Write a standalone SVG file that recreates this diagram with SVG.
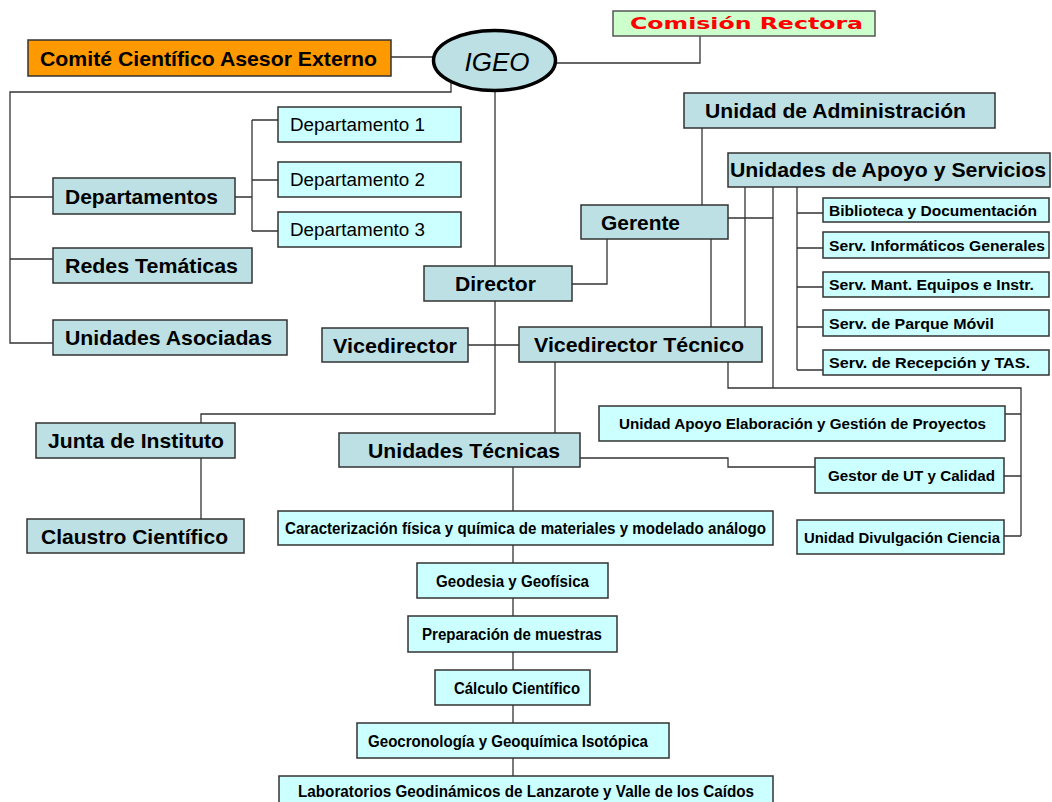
<svg xmlns="http://www.w3.org/2000/svg" width="1052" height="802" viewBox="0 0 1052 802">
<style>
.b{fill:#BCE0E3;stroke:#333;stroke-width:1.5}
.c{fill:#CCFFFF;stroke:#333;stroke-width:1.5}
.o{fill:#FF9900;stroke:#333;stroke-width:1.5}
.g{fill:#CCFFCC;stroke:#555;stroke-width:1.5}
.t{font-family:"Liberation Sans",Arial,sans-serif;font-weight:bold;font-size:21px;fill:#000}
.d{font-family:"Liberation Sans",Arial,sans-serif;font-size:18px;fill:#000}
.s{font-family:"Liberation Sans",Arial,sans-serif;font-weight:bold;font-size:15px;fill:#000}
.m{font-family:"Liberation Sans",Arial,sans-serif;font-weight:bold;font-size:16px;fill:#000}
#conn path{fill:none;stroke:#333;stroke-width:1.3}
</style>
<rect width="1052" height="802" fill="#fff"/>
<g id="conn">
<path d="M391,57H433"/>
<path d="M451,83V92H10V343H53M10,197H53M10,259H53"/>
<path d="M235,197H252M252,120V231M252,120H278M252,180H278M252,231H278"/>
<path d="M495,91V266M495,301V414H201V423"/>
<path d="M201,458V519"/>
<path d="M468,345H519"/>
<path d="M572,284H607V239"/>
<path d="M702,128V205"/>
<path d="M711,239V327"/>
<path d="M728,218H773"/>
<path d="M745,187V327"/>
<path d="M773,187V388"/>
<path d="M797,187V370M797,213H823M797,248H823M797,287H823M797,327H823M797,370H823"/>
<path d="M728,362V388H1021V536M1005,414H1021M1004,476H1021M1004,536H1021"/>
<path d="M555,362V433"/>
<path d="M580,458H728V467H815"/>
<path d="M513,467V776"/>
<path d="M557,63H700V36"/>
</g>
<g id="comite"><rect class="o" x="28" y="40" width="363" height="36"/><text class="t" x="40" y="66" textLength="337" lengthAdjust="spacingAndGlyphs">Comité Científico Asesor Externo</text></g>
<g id="igeo"><ellipse cx="494.5" cy="60.5" rx="61" ry="30" fill="#BCE0E3" stroke="#000" stroke-width="3.5"/><text x="497" y="71" text-anchor="middle" style="font-family:'Liberation Sans',Arial,sans-serif;font-style:italic;font-size:26px">IGEO</text></g>
<g id="comision"><rect class="g" x="613" y="11" width="262" height="25"/><text x="630" y="29" textLength="233" lengthAdjust="spacingAndGlyphs" style="font-family:'DejaVu Sans',Verdana,sans-serif;font-weight:bold;font-size:16px;fill:#FF0000">Comisión Rectora</text></g>
<g id="uadmin"><rect class="b" x="684" y="93" width="311" height="35"/><text class="t" x="705" y="118" textLength="261" lengthAdjust="spacingAndGlyphs">Unidad de Administración</text></g>
<g id="uapoyo"><rect class="b" x="728" y="153" width="322" height="34"/><text class="t" x="730" y="177" textLength="316" lengthAdjust="spacingAndGlyphs">Unidades de Apoyo y Servicios</text></g>
<g id="departamentos"><rect class="b" x="53" y="178" width="182" height="36"/><text class="t" x="65" y="204" textLength="153" lengthAdjust="spacingAndGlyphs">Departamentos</text></g>
<g id="redes"><rect class="b" x="53" y="248" width="199" height="35"/><text class="t" x="65" y="273" textLength="173" lengthAdjust="spacingAndGlyphs">Redes Temáticas</text></g>
<g id="asociadas"><rect class="b" x="53" y="320" width="234" height="35"/><text class="t" x="65" y="345" textLength="207" lengthAdjust="spacingAndGlyphs">Unidades Asociadas</text></g>
<g id="dep1"><rect class="c" x="278" y="107" width="183" height="35"/><text class="d" x="290" y="131" textLength="135" lengthAdjust="spacingAndGlyphs">Departamento 1</text></g>
<g id="dep2"><rect class="c" x="278" y="162" width="183" height="35"/><text class="d" x="290" y="186" textLength="135" lengthAdjust="spacingAndGlyphs">Departamento 2</text></g>
<g id="dep3"><rect class="c" x="278" y="212" width="183" height="35"/><text class="d" x="290" y="236" textLength="135" lengthAdjust="spacingAndGlyphs">Departamento 3</text></g>
<g id="gerente"><rect class="b" x="581" y="205" width="147" height="34"/><text class="t" x="601" y="230" textLength="79" lengthAdjust="spacingAndGlyphs">Gerente</text></g>
<g id="director"><rect class="b" x="424" y="266" width="148" height="35"/><text class="t" x="455" y="291" textLength="81" lengthAdjust="spacingAndGlyphs">Director</text></g>
<g id="vicedirector"><rect class="b" x="322" y="328" width="146" height="34"/><text class="t" x="333" y="353" textLength="124" lengthAdjust="spacingAndGlyphs">Vicedirector</text></g>
<g id="vicetecnico"><rect class="b" x="519" y="327" width="243" height="35"/><text class="t" x="534" y="352" textLength="210" lengthAdjust="spacingAndGlyphs">Vicedirector Técnico</text></g>
<g id="junta"><rect class="b" x="36" y="423" width="199" height="35"/><text class="t" x="48" y="448" textLength="176" lengthAdjust="spacingAndGlyphs">Junta de Instituto</text></g>
<g id="claustro"><rect class="b" x="27" y="519" width="217" height="34"/><text class="t" x="41" y="544" textLength="187" lengthAdjust="spacingAndGlyphs">Claustro Científico</text></g>
<g id="utecnicas"><rect class="b" x="339" y="433" width="241" height="34"/><text class="t" x="368" y="458" textLength="192" lengthAdjust="spacingAndGlyphs">Unidades Técnicas</text></g>
<g id="biblioteca"><rect class="c" x="823" y="198" width="226" height="24"/><text class="s" x="829" y="216" textLength="208" lengthAdjust="spacingAndGlyphs">Biblioteca y Documentación</text></g>
<g id="informaticos"><rect class="c" x="823" y="232" width="226" height="26"/><text class="s" x="829" y="251" textLength="216" lengthAdjust="spacingAndGlyphs">Serv. Informáticos Generales</text></g>
<g id="mant"><rect class="c" x="823" y="272" width="226" height="25"/><text class="s" x="829" y="290" textLength="205" lengthAdjust="spacingAndGlyphs">Serv. Mant. Equipos e Instr.</text></g>
<g id="parque"><rect class="c" x="823" y="310" width="226" height="26"/><text class="s" x="829" y="329" textLength="165" lengthAdjust="spacingAndGlyphs">Serv. de Parque Móvil</text></g>
<g id="recepcion"><rect class="c" x="823" y="350" width="226" height="25"/><text class="s" x="829" y="368" textLength="201" lengthAdjust="spacingAndGlyphs">Serv. de Recepción y TAS.</text></g>
<g id="uaegp"><rect class="c" x="599" y="406" width="406" height="35"/><text class="s" x="619" y="429" textLength="367" lengthAdjust="spacingAndGlyphs">Unidad Apoyo Elaboración y Gestión de Proyectos</text></g>
<g id="gestor"><rect class="c" x="815" y="458" width="189" height="35"/><text class="s" x="828" y="481" textLength="167" lengthAdjust="spacingAndGlyphs">Gestor de UT y Calidad</text></g>
<g id="divulgacion"><rect class="c" x="797" y="520" width="207" height="34"/><text class="s" x="804" y="543" textLength="196" lengthAdjust="spacingAndGlyphs">Unidad Divulgación Ciencia</text></g>
<g id="caracterizacion"><rect class="c" x="278" y="511" width="495" height="34"/><text class="m" x="285" y="534" textLength="481" lengthAdjust="spacingAndGlyphs">Caracterización física y química de materiales y modelado análogo</text></g>
<g id="geodesia"><rect class="c" x="417" y="563" width="191" height="35"/><text class="m" x="436" y="587" textLength="153" lengthAdjust="spacingAndGlyphs">Geodesia y Geofísica</text></g>
<g id="preparacion"><rect class="c" x="408" y="616" width="209" height="36"/><text class="m" x="422" y="640" textLength="180" lengthAdjust="spacingAndGlyphs">Preparación de muestras</text></g>
<g id="calculo"><rect class="c" x="435" y="670" width="155" height="35"/><text class="m" x="454" y="694" textLength="126" lengthAdjust="spacingAndGlyphs">Cálculo Científico</text></g>
<g id="geocronologia"><rect class="c" x="357" y="723" width="312" height="35"/><text class="m" x="368" y="747" textLength="280" lengthAdjust="spacingAndGlyphs">Geocronología y Geoquímica Isotópica</text></g>
<g id="laboratorios"><rect class="c" x="279" y="776" width="494" height="35"/><text class="m" x="298" y="797" textLength="456" lengthAdjust="spacingAndGlyphs">Laboratorios Geodinámicos de Lanzarote y Valle de los Caídos</text></g>
</svg>
